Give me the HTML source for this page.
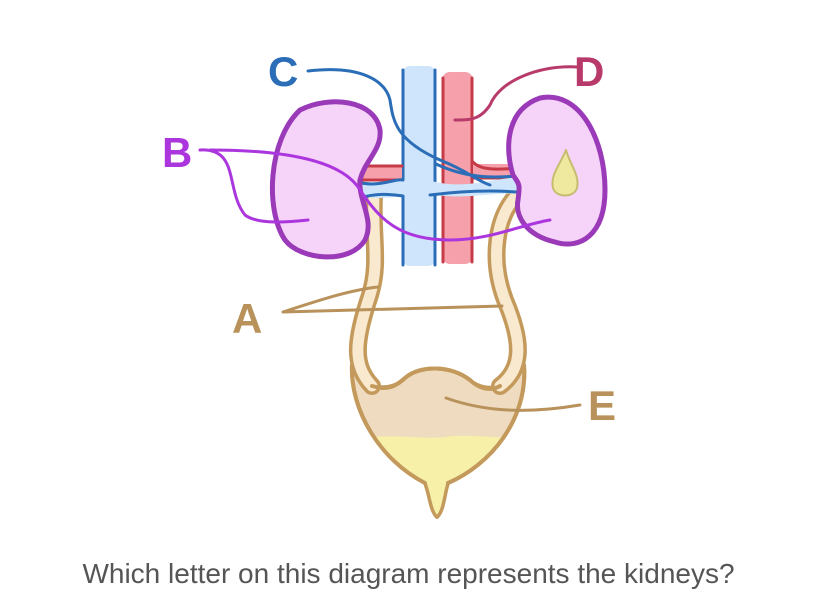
<!DOCTYPE html>
<html><head><style>
html,body{margin:0;padding:0;background:#fff;width:817px;height:606px;overflow:hidden}
.q{position:absolute;left:0;width:817px;top:558px;text-align:center;font-family:"Liberation Sans",sans-serif;font-size:28px;color:#555;}
</style></head><body>
<svg width="817" height="606" style="position:absolute;left:0;top:0" xmlns="http://www.w3.org/2000/svg">
<defs>
<clipPath id="bl"><path d="M352,365 C350,410 380,460 425,483 L448,483 C490,465 528,420 524,365 Z"/></clipPath>
</defs>
<g fill="none" stroke-linecap="round" stroke-linejoin="round">
<!-- bladder -->
<path d="M352,365 C350,410 380,460 425,483 C430,495 430,510 437,517 C444,510 444,495 448,483 C490,465 528,420 524,365 C510,392 482,392 470,380 C450,365 420,365 405,378 C392,392 365,392 352,365 Z" fill="#efdcc0" stroke="#c49a5c" stroke-width="4"/>
<g clip-path="url(#bl)"><path d="M340,440 C400,432 420,440 445,437 C470,433 490,440 540,436 V520 H340 Z" fill="#f6f0a8"/></g>
<path d="M425,483 C430,495 430,510 437,517 C444,510 444,495 448,483" fill="#f6f0a8" stroke="#c49a5c" stroke-width="3"/>
<path d="M352,365 C350,410 380,460 425,483 M448,483 C490,465 528,420 524,365" stroke="#c49a5c" stroke-width="4"/>
<!-- ureters -->
<path d="M374,195 C372,240 380,262 370,295 C355,340 352,365 372,386" stroke="#c49a5c" stroke-width="18"/>
<path d="M374,195 C372,240 380,262 370,295 C355,340 352,365 372,386" stroke="#f8e9cf" stroke-width="11"/>
<path d="M520,192 C495,215 490,260 505,300 C522,340 524,368 500,386" stroke="#c49a5c" stroke-width="18"/>
<path d="M520,192 C495,215 490,260 505,300 C522,340 524,368 500,386" stroke="#f8e9cf" stroke-width="11"/>
<path d="M372,386 C392,392 398,383 405,378 C420,365 450,365 470,380 C478,388 490,392 500,386" stroke="#c49a5c" stroke-width="4"/>
<!-- vena cava -->
<rect x="402" y="66" width="34" height="200" rx="8" fill="#cfe5fb"/>
<path d="M403,70 V265 M435,70 V265" stroke="#2b6db6" stroke-width="3"/>
<!-- aorta -->
<rect x="442" y="72" width="31" height="192" rx="8" fill="#f5a0aa"/>
<path d="M443,78 V262 M472,78 V262" stroke="#c63b47" stroke-width="3"/>
<!-- renal vessels -->
<rect x="360" y="166" width="42" height="14" fill="#f5a0aa"/>
<path d="M362,166 H402 M362,180 H402" stroke="#c63b47" stroke-width="3"/>
<rect x="473" y="164" width="50" height="14" fill="#f5a0aa"/>
<path d="M473,162 C480,170 495,170 522,168 M473,178 H520" stroke="#c63b47" stroke-width="3"/>
<path d="M355,182 C380,185 400,175 436,182 C470,190 500,175 525,178 L528,195 C500,190 470,200 436,195 C410,192 390,202 358,196 Z" fill="#cfe5fb"/>
<path d="M357,182 C380,188 395,178 403,180 M436,164 C470,180 500,178 525,175 M360,198 C380,192 395,195 403,196 M430,195 C470,190 500,190 528,193" stroke="#2b6db6" stroke-width="3"/>
<!-- kidneys -->
<path d="M300,110 C330,95 375,100 380,130 C382,150 365,160 360,180 C358,200 375,220 365,240 C350,265 300,260 285,240 C265,210 268,140 300,110 Z" fill="#f6d3f8" stroke="#9a3ab8" stroke-width="5"/>
<path d="M540,98 C580,90 605,140 605,190 C605,235 580,250 555,242 C525,235 515,215 518,200 C520,185 520,185 513,175 C505,150 505,110 540,98 Z" fill="#f6d3f8" stroke="#9a3ab8" stroke-width="5"/>
<path d="M566,150 C560,165 550,175 553,188 C556,198 574,198 577,188 C580,175 570,165 566,150 Z" fill="#efe9a0" stroke="#c6bd70" stroke-width="2"/>
<!-- label lines -->
<path d="M308,71 C360,65 385,80 390,100 C393,120 395,140 440,160 C470,172 475,180 490,185" stroke="#2b6db6" stroke-width="3"/>
<path d="M578,67 C540,65 500,80 490,105 C480,120 470,120 455,120" stroke="#b83a6a" stroke-width="3"/>
<path d="M200,150 C240,148 225,190 245,215 C258,225 290,222 308,220 M210,150 C300,150 345,165 360,190 C380,220 400,240 450,240 C490,240 520,225 550,220" stroke="#ab36de" stroke-width="3"/>
<path d="M283,312 C320,300 350,290 378,287 M283,312 L502,306" stroke="#b8925a" stroke-width="3"/>
<path d="M446,398 C480,410 520,415 580,405" stroke="#b8925a" stroke-width="3"/>
</g>
<g font-family="Liberation Sans, sans-serif" font-weight="bold" font-size="42">
<text x="268" y="86" fill="#2b6db6">C</text>
<text x="574" y="86" fill="#b83a6a">D</text>
<text x="162" y="167" fill="#ab36de">B</text>
<text x="232" y="333" fill="#b8925a">A</text>
<text x="588" y="420" fill="#b8925a">E</text>
</g>
</svg>
<div class="q">Which letter on this diagram represents the kidneys?</div>
</body></html>
